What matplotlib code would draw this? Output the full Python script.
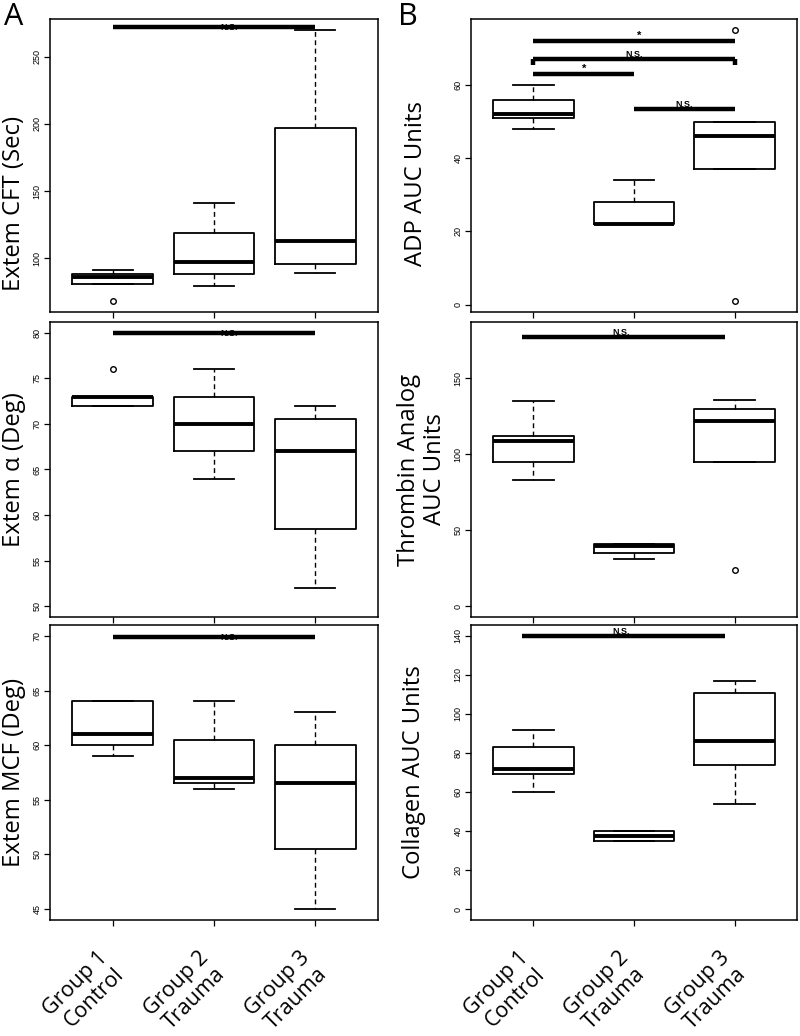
import matplotlib
matplotlib.use("Agg")
import matplotlib.pyplot as plt

# ---------------- data ----------------
groups = ["Group 1\nControl", "Group 2\nTrauma", "Group 3\nTrauma"]
positions = [1, 2, 3]

# Extem CFT (Sec)
cft_low = [81, 79, 89]
cft_q1 = [81, 88, 96]
cft_med = [86, 97, 113]
cft_q3 = [88, 119, 197]
cft_high = [91, 141, 270]
cft_out = [[68], [], []]

# Extem alpha (Deg)
alpha_low = [72, 64, 52]
alpha_q1 = [72, 67, 58.5]
alpha_med = [73, 70, 67]
alpha_q3 = [73, 73, 70.5]
alpha_high = [73, 76, 72]
alpha_out = [[76], [], []]

# Extem MCF (Deg)
mcf_low = [59, 56, 45]
mcf_q1 = [60, 56.5, 50.5]
mcf_med = [61, 57, 56.5]
mcf_q3 = [64, 60.5, 60]
mcf_high = [64, 64, 63]
mcf_out = [[], [], []]

# ADP AUC Units
adp_low = [48, 22, 37]
adp_q1 = [51, 22, 37]
adp_med = [52, 22, 46]
adp_q3 = [56, 28, 50]
adp_high = [60, 34, 50]
adp_out = [[], [], [75, 1]]

# Thrombin Analog AUC Units
thr_low = [83, 31, 95]
thr_q1 = [95, 35, 95]
thr_med = [109, 39.5, 122]
thr_q3 = [112, 41, 130]
thr_high = [135, 41, 136]
thr_out = [[], [], [24]]

# Collagen AUC Units
col_low = [60, 35, 54]
col_q1 = [69, 35, 74]
col_med = [72, 37.5, 86]
col_q3 = [83, 40, 111]
col_high = [92, 40, 117]
col_out = [[], [], []]

# significance annotations: (start group, end group, level, text, bracket)
sig_cft = [(1, 3, 272, "N.S.", False)]
sig_alpha = [(1, 3, 79.95, "N.S.", False)]
sig_mcf = [(1, 3, 69.9, "N.S.", False)]
sig_adp = [(1, 3, 72, "*", False), (1, 3, 67, "N.S.", True),
           (1, 2, 63, "*", False), (2, 3, 53.5, "N.S.", False)]
sig_thr = [(0.89, 2.9, 177.5, "N.S.", False)]
sig_col = [(0.89, 2.9, 139.8, "N.S.", False)]

ylabels = ["Extem CFT (Sec)", "Extem \u03b1 (Deg)", "Extem MCF (Deg)",
           "ADP AUC Units", "Thrombin Analog\nAUC Units", "Collagen AUC Units"]

# ---------------- figure ----------------
W, H = 800, 1036
fig = plt.figure(figsize=(W / 100, H / 100), dpi=100)

def rect(x0, y0, x1, y1):
    return [x0 / W, 1 - y1 / H, (x1 - x0) / W, (y1 - y0) / H]

rows = [(19, 312), (322, 617), (625, 920)]
cols = [(50, 378), (471, 797)]

# (row, col, ..., ylim, yticks, sigs, ylabel, label x, label y)
panels = [
    (0, 0, cft_low, cft_q1, cft_med, cft_q3, cft_high, cft_out, (60, 278), [100, 150, 200, 250], sig_cft, ylabels[0], -0.11, 0.37),
    (1, 0, alpha_low, alpha_q1, alpha_med, alpha_q3, alpha_high, alpha_out, (48.8, 81.2), [50, 55, 60, 65, 70, 75, 80], sig_alpha, ylabels[1], -0.11, 0.5),
    (2, 0, mcf_low, mcf_q1, mcf_med, mcf_q3, mcf_high, mcf_out, (44, 71), [45, 50, 55, 60, 65, 70], sig_mcf, ylabels[2], -0.11, 0.5),
    (0, 1, adp_low, adp_q1, adp_med, adp_q3, adp_high, adp_out, (-2, 78), [0, 20, 40, 60], sig_adp, ylabels[3], -0.17, 0.44),
    (1, 1, thr_low, thr_q1, thr_med, thr_q3, thr_high, thr_out, (-7.2, 187.2), [0, 50, 100, 150], sig_thr, ylabels[4], -0.15, 0.5),
    (2, 1, col_low, col_q1, col_med, col_q3, col_high, col_out, (-5.6, 145.6), [0, 20, 40, 60, 80, 100, 120, 140], sig_col, ylabels[5], -0.175, 0.5),
]

lab_font = ["Open Sans", "DejaVu Sans"]
tick_font = ["Liberation Sans", "DejaVu Sans"]

for r, c, lo, q1, med, q3, hi, out, ylim, yt, sigs, ylab, lx, ly in panels:
    x0, x1 = cols[c]
    y0, y1 = rows[r]
    ax = fig.add_axes(rect(x0, y0, x1, y1))
    stats = []
    for i in range(3):
        stats.append(dict(med=med[i], q1=q1[i], q3=q3[i], whislo=lo[i], whishi=hi[i], fliers=out[i]))
    ax.bxp(stats, positions=positions, widths=0.8, capwidths=0.4,
           boxprops=dict(color="black", lw=1.3),
           medianprops=dict(color="black", lw=2.8, solid_capstyle="butt"),
           whiskerprops=dict(color="black", lw=1.0, dashes=(3.5, 2.5)),
           capprops=dict(color="black", lw=1.3),
           flierprops=dict(marker="o", markerfacecolor="none", markeredgecolor="black",
                           markersize=4, markeredgewidth=1.0),
           showfliers=True, manage_ticks=False)
    ax.set_xlim(0.38, 3.62)
    ax.set_ylim(*ylim)
    ax.set_yticks(yt)
    ax.set_yticklabels([str(v) for v in yt], rotation=90, va="center",
                       fontsize=6.5, family=tick_font)
    ax.set_xticks(positions)
    if r == 2:
        ax.set_xticklabels(groups, rotation=45, ha="right", va="center",
                           rotation_mode="anchor", fontsize=15.5, family=lab_font,
                           linespacing=1.15)
        ax.tick_params(axis="x", pad=27)
    else:
        ax.set_xticklabels([])
    ax.tick_params(axis="y", length=4, width=0.9, pad=2)
    ax.tick_params(axis="x", length=4, width=0.9)
    for s in ax.spines.values():
        s.set_linewidth(1.1)

    ax.set_ylabel(ylab, fontsize=17.2, family=lab_font, va="center", linespacing=1.15)
    ax.yaxis.set_label_coords(lx, ly)

    span = ylim[1] - ylim[0]
    for a, b, lev, txt, bracket in sigs:
        ax.plot([a, b], [lev, lev], color="black", lw=3.2, solid_capstyle="butt")
        if bracket:
            tip = span * 0.02
            ax.plot([a, a], [lev, lev - tip], color="black", lw=3.2, solid_capstyle="butt")
            ax.plot([b, b], [lev, lev - tip], color="black", lw=3.2, solid_capstyle="butt")
        xm = (a + b) / 2
        if txt == "*":
            ax.text(xm + (0.05 if a == 1 and b == 3 else 0), lev, txt, ha="center", va="bottom",
                    fontsize=8, fontweight="bold", family=tick_font)
        else:
            off = 0.15 if c == 0 else (0 if len(sigs) > 1 else -0.02)
            ax.text(xm + off, lev, txt, ha="center", va="center" if c == 0 else "bottom",
                    fontsize=6.5, fontweight="bold", family=tick_font)

fig.text(4 / W, 1 - 17 / H, "A", fontsize=22, family=lab_font, va="center", ha="left")
fig.text(398 / W, 1 - 17 / H, "B", fontsize=22, family=lab_font, va="center", ha="left")

fig.savefig("out.png", dpi=100)
